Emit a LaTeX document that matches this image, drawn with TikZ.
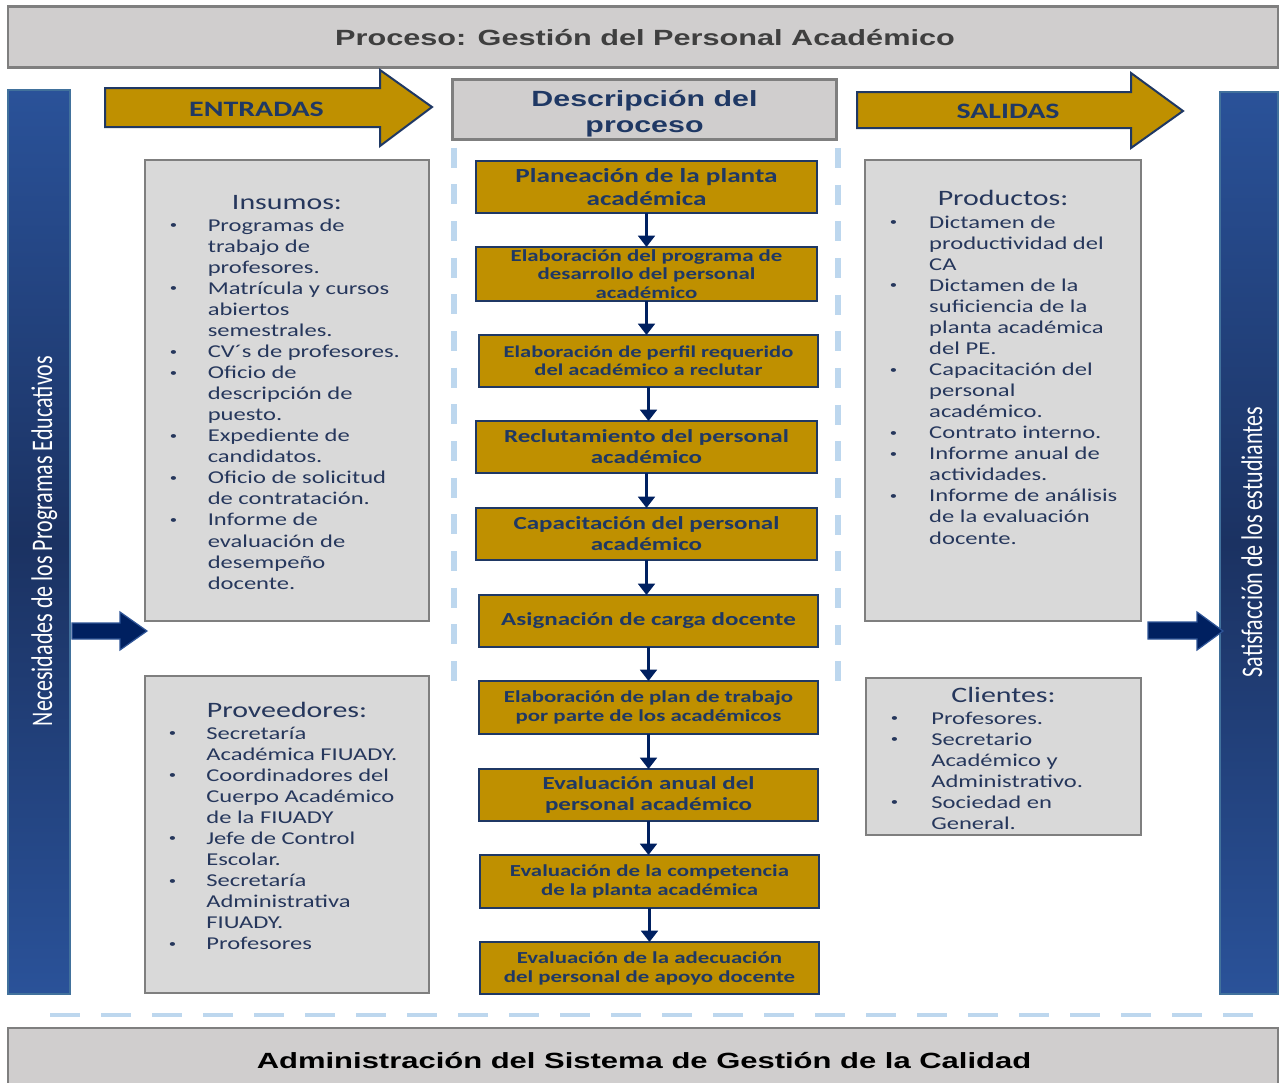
\documentclass[tikz,border=0pt]{standalone}
\usepackage{fontspec}
\usepackage{graphicx}
\usetikzlibrary{arrows.meta}
\setmainfont{Carlito}[FakeStretch=1.36]
\newfontfamily\arialfont{Liberation Sans}[FakeStretch=1.38]
\newfontfamily\barfont{Carlito}
\definecolor{gold}{HTML}{BF9000}
\definecolor{navy}{HTML}{1F3864}
\definecolor{arrownavy}{HTML}{002060}
\definecolor{arrowedge}{HTML}{2F5597}
\definecolor{boxgray}{HTML}{D9D9D9}
\definecolor{headgray}{HTML}{D0CECE}
\definecolor{bordergray}{HTML}{7F7F7F}
\definecolor{dashblue}{HTML}{BDD7EE}
\definecolor{barlight}{HTML}{2A5299}
\definecolor{bardark}{HTML}{1B3262}
\definecolor{baredge}{HTML}{41719C}
\definecolor{listtext}{HTML}{26375C}
\definecolor{titletext}{HTML}{3F3F3F}
\newcommand{\fsz}[2]{\fontsize{#1}{#2}\selectfont}
\newcommand{\bl}{\raisebox{0.13em}{\scalebox{0.6}{•}}}
\newcommand{\blist}[2]{\begin{tabular}[t]{@{}p{#1}@{}l@{}}#2\end{tabular}}
\begin{document}
\begin{tikzpicture}[x=0.75pt,y=-0.75pt,
  flowbox/.style={draw=navy, line width=1.5pt, fill=gold, text=navy, align=center, inner sep=0pt, outer sep=0pt},
  graybox/.style={draw=bordergray, line width=1.9pt, fill=boxgray, inner sep=0pt, outer sep=0pt},
  headbox/.style={draw=bordergray, line width=1.6pt, fill=headgray, inner sep=0pt, outer sep=0pt},
  bluebar/.style={draw=baredge, line width=1pt, top color=barlight, bottom color=barlight, middle color=bardark, inner sep=0pt, outer sep=0pt},
  bigarrow/.style={draw=navy, line width=1.5pt, fill=gold, line join=miter},
  navyarrow/.style={draw=arrowedge, line width=0.9pt, fill=arrownavy, line join=miter},
  flowlink/.style={draw=arrownavy, line width=2.3pt, -{Triangle[width=12.5pt,length=8.5pt]}},
  listtitle/.style={anchor=base, inner sep=0pt, text=listtext, font=\fsz{16.5}{19}},
  listbody/.style={anchor=base west, inner sep=0pt, text=listtext, font=\fsz{13.55}{15.8}},
  dashv/.style={draw=dashblue, line width=4.5pt, dash pattern=on 15pt off 12.5pt},
  dashh/.style={draw=dashblue, line width=3.5pt, dash pattern=on 22.5pt off 15.75pt}
]
\useasboundingbox (0,0) rectangle (1280,1082);
\fill[white] (0,0) rectangle (1280,1082);

% header and footer bars
\node[headbox, minimum width=1270*0.75pt, minimum height=61*0.75pt] (head) at (643,37) {};
\node[anchor=base, inner sep=0pt, text=titletext, font=\arialfont\bfseries\fsz{16.5}{19}] (headtxt) at (645,45) {\scalebox{1.01}[1]{Proceso: Gestión del Personal Académico}};

\draw[dashh] (50,1015) -- (1253,1015);
\node[headbox, minimum width=1270*0.75pt, minimum height=80*0.75pt, anchor=north] (foot) at (643,1028) {};
\node[anchor=base, inner sep=0pt, text=black, font=\arialfont\bfseries\fsz{16.5}{19}] (foottxt) at (644,1068) {\scalebox{1.02}[1]{Administración del Sistema de Gestión de la Calidad}};

% blue side bars
\node[bluebar, minimum width=62*0.75pt, minimum height=904*0.75pt] (lbar) at (39,542) {};
\node[rotate=90, anchor=base, inner sep=0pt, text=white, font=\barfont\fsz{16.5}{19}] (lbartxt) at (52,541) {\scalebox{1}[1.36]{Necesidades de los Programas Educativos}};
\node[bluebar, minimum width=58*0.75pt, minimum height=902*0.75pt] (rbar) at (1249,543) {};
\node[rotate=90, anchor=base, inner sep=0pt, text=white, font=\barfont\fsz{16.5}{19}] (rbartxt) at (1262,542) {\scalebox{1}[1.36]{Satisfacción de los estudiantes}};

% entradas / salidas arrows
\draw[bigarrow] (105,88) -- (380,88) -- (380,70) -- (432,107) -- (380,146) -- (380,127) -- (105,127) -- cycle;
\node[anchor=base, inner sep=0pt, text=navy, font=\bfseries\fsz{16.5}{19}] (entradas) at (256.5,116) {ENTRADAS};
\draw[bigarrow] (857,92) -- (1131,92) -- (1131,73) -- (1183,111) -- (1131,148) -- (1131,128) -- (857,128) -- cycle;
\node[anchor=base, inner sep=0pt, text=navy, font=\bfseries\fsz{16.5}{19}] (salidas) at (1008,118) {SALIDAS};

% navy arrows from/to bars
\draw[navyarrow] (72,623) -- (120,623) -- (120,612) -- (147,631) -- (120,650) -- (120,639) -- (72,639) -- cycle;
\draw[navyarrow] (1148,622) -- (1197,622) -- (1197,612) -- (1223,631) -- (1197,650) -- (1197,639) -- (1148,639) -- cycle;

% dashed vertical guides
\draw[dashv] (454,111) -- (454,682);
\draw[dashv] (838,148) -- (838,682);

% description header
\node[headbox, minimum width=384*0.75pt, minimum height=60*0.75pt] (desc) at (644.5,109.5) {};
\node[anchor=base, inner sep=0pt, text=navy, font=\arialfont\bfseries\fsz{16.5}{19.5}] (desctxt) at (644.5,106) {\begin{tabular}[t]{@{}c@{}}Descripción del\\proceso\end{tabular}};

% gray boxes
\node[graybox, minimum width=284*0.75pt, minimum height=461*0.75pt] (insumos) at (287,390.5) {};
\node[listtitle] (insumost) at (287,209) {Insumos:};
\node[listbody] (insumosl) at (169.5,231) {\blist{28.5pt}{%
\bl & Programas de\\ & trabajo de\\ & profesores.\\
\bl & Matrícula y cursos\\ & abiertos\\ & semestrales.\\
\bl & CV´s de profesores.\\
\bl & Oficio de\\ & descripción de\\ & puesto.\\
\bl & Expediente de\\ & candidatos.\\
\bl & Oficio de solicitud\\ & de contratación.\\
\bl & Informe de\\ & evaluación de\\ & desempeño\\ & docente.}};

\node[graybox, minimum width=284*0.75pt, minimum height=317*0.75pt] (proveedores) at (287,834.5) {};
\node[listtitle] (proveedorest) at (287,717) {Proveedores:};
\node[listbody] (proveedoresl) at (168.5,739) {\blist{28.2pt}{%
\bl & Secretaría\\ & Académica FIUADY.\\
\bl & Coordinadores del\\ & Cuerpo Académico\\ & de la FIUADY\\
\bl & Jefe de Control\\ & Escolar.\\
\bl & Secretaría\\ & Administrativa\\ & FIUADY.\\
\bl & Profesores}};

\node[graybox, minimum width=276*0.75pt, minimum height=461*0.75pt] (productos) at (1003,390.5) {};
\node[listtitle] (productost) at (1003,205) {Productos:};
\node[listbody] (productosl) at (889.5,228) {\blist{29.6pt}{%
\bl & Dictamen de\\ & productividad del\\ & CA\\
\bl & Dictamen de la\\ & suficiencia de la\\ & planta académica\\ & del PE.\\
\bl & Capacitación del\\ & personal\\ & académico.\\
\bl & Contrato interno.\\
\bl & Informe anual de\\ & actividades.\\
\bl & Informe de análisis\\ & de la evaluación\\ & docente.}};

\node[graybox, minimum width=275*0.75pt, minimum height=157*0.75pt] (clientes) at (1003.5,756.5) {};
\node[listtitle] (clientest) at (1003.5,702) {Clientes:};
\node[listbody] (clientesl) at (890.5,724) {\blist{30.4pt}{%
\bl & Profesores.\\
\bl & Secretario\\ & Académico y\\ & Administrativo.\\
\bl & Sociedad en\\ & General.}};

% process flow
\node[flowbox, minimum width=341*0.75pt, minimum height=52*0.75pt, font=\bfseries\fsz{15}{17.25}] (b1) at (646.5,187) {Planeación de la planta\\académica};
\node[flowbox, minimum width=341*0.75pt, minimum height=54*0.75pt, font=\bfseries\fsz{12.6}{13.9}] (b2) at (646.5,274) {Elaboración del programa de\\desarrollo del personal\\académico};
\node[flowbox, minimum width=339*0.75pt, minimum height=52*0.75pt, font=\bfseries\fsz{12.4}{13.5}] (b3) at (648.5,361) {Elaboración de perfil requerido\\del académico a reclutar};
\node[flowbox, minimum width=341*0.75pt, minimum height=52*0.75pt, font=\bfseries\fsz{13.8}{15.75}] (b4) at (646.5,447) {Reclutamiento del personal\\académico};
\node[flowbox, minimum width=341*0.75pt, minimum height=52*0.75pt, font=\bfseries\fsz{13.8}{15.75}] (b5) at (646.5,534) {Capacitación del personal\\académico};
\node[flowbox, minimum width=339*0.75pt, minimum height=52*0.75pt, font=\bfseries\fsz{13.8}{15.75}] (b6) at (648.5,621) {Asignación de carga docente};
\node[flowbox, minimum width=339*0.75pt, minimum height=53*0.75pt, font=\bfseries\fsz{12.6}{14.25}] (b7) at (648.5,707.5) {Elaboración de plan de trabajo\\por parte de los académicos};
\node[flowbox, minimum width=339*0.75pt, minimum height=52*0.75pt, font=\bfseries\fsz{13.8}{15.75}] (b8) at (648.5,795) {Evaluación anual del\\personal académico};
\node[flowbox, minimum width=339*0.75pt, minimum height=53*0.75pt, font=\bfseries\fsz{12.6}{14.25}] (b9) at (649.5,881.5) {Evaluación de la competencia\\de la planta académica};
\node[flowbox, minimum width=339*0.75pt, minimum height=52*0.75pt, font=\bfseries\fsz{12.6}{14.25}] (b10) at (649.5,968) {Evaluación de la adecuación\\del personal de apoyo docente};

\foreach \a/\b in {b1/b2,b2/b3,b3/b4,b4/b5,b5/b6,b6/b7,b7/b8,b8/b9,b9/b10}
  \draw[flowlink] (\a.south) -- (\a.south |- \b.north);
\end{tikzpicture}
\end{document}
